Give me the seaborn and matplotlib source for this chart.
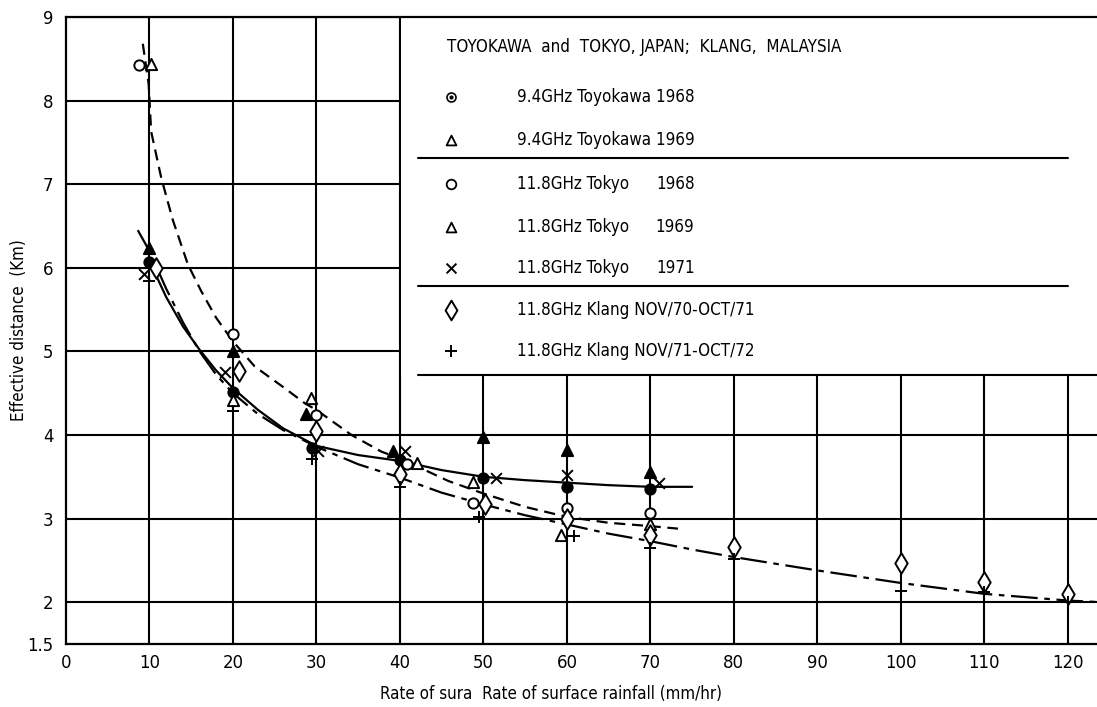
import matplotlib
matplotlib.use("Agg")
import matplotlib.pyplot as plt
from matplotlib import font_manager
from matplotlib.patches import Rectangle
import pandas as pd
import seaborn as sns

# measured points: rainfall rate (mm/hr) -> effective distance (km)
toyo68_x = [10, 20, 29.5, 40, 50, 60, 70]
toyo68_y = [6.07, 4.52, 3.85, 3.70, 3.48, 3.38, 3.35]
toyo69_x = [10, 20, 28.7, 39.2, 50, 60, 70]
toyo69_y = [6.24, 5.01, 4.25, 3.81, 3.98, 3.82, 3.56]
tokyo68_x = [8.7, 20, 30, 40.8, 48.7, 60, 70]
tokyo68_y = [8.43, 5.21, 4.24, 3.65, 3.19, 3.13, 3.07]
tokyo69_x = [10.2, 20, 29.4, 42.1, 48.7, 59.3, 70]
tokyo69_y = [8.44, 4.42, 4.44, 3.66, 3.44, 2.80, 2.93]
tokyo71_x = [9.4, 19.1, 30.2, 40.6, 51.5, 60, 71]
tokyo71_y = [5.93, 4.75, 3.81, 3.81, 3.49, 3.52, 3.42]
klang7071_x = [10.8, 20.7, 30, 40, 50.2, 60, 70, 80, 100, 110, 120]
klang7071_y = [6.0, 4.76, 4.05, 3.53, 3.18, 3.0, 2.80, 2.66, 2.47, 2.24, 2.10]
klang7172_x = [10, 20, 29.5, 40, 49.5, 60.9, 70, 80, 100, 110, 120]
klang7172_y = [5.84, 4.29, 3.71, 3.38, 3.02, 2.79, 2.65, 2.52, 2.13, 2.12, 2.0]

# hand drawn fit curves
tokyo_fit_x = [9.2, 9.9, 10.2, 11.4, 12.8, 14.6, 16.2, 18, 20, 22.6, 26.2, 28.6,
               30, 34.2, 37.8, 40, 45.8, 50, 55, 60, 65, 70, 73.3]
tokyo_fit_y = [8.68, 8.2, 7.63, 7.08, 6.57, 6.04, 5.72, 5.4, 5.12, 4.82, 4.56, 4.38,
               4.3, 4.0, 3.8, 3.72, 3.45, 3.30, 3.14, 3.02, 2.95, 2.91, 2.88]
toyo_fit_x = [10.6, 12, 14, 16, 18, 20, 23, 26, 30, 35, 40, 45, 50, 55, 60, 65, 70, 75]
toyo_fit_y = [5.95, 5.65, 5.3, 5.02, 4.77, 4.56, 4.3, 4.08, 3.87, 3.76, 3.69, 3.58,
              3.50, 3.46, 3.43, 3.40, 3.38, 3.38]
klang_fit_x = [8.6, 10, 12, 14, 16, 18, 20, 23, 26, 30, 35, 40, 45, 50, 55, 60, 65,
               70, 75, 80, 90, 100, 110, 120, 124]
klang_fit_y = [6.45, 6.2, 5.75, 5.35, 5.0, 4.72, 4.5, 4.25, 4.06, 3.86, 3.65, 3.49,
               3.31, 3.17, 3.04, 2.93, 2.82, 2.73, 2.63, 2.54, 2.38, 2.23, 2.1, 2.02, 2.0]

x_ticks = list(range(0, 130, 10))
y_ticks = [1.5, 2, 3, 4, 5, 6, 7, 8, 9]
y_tick_labels = ["1.5", "2", "3", "4", "5", "6", "7", "8", "9"]

legend_title = "TOYOKAWA  and  TOKYO, JAPAN;  KLANG,  MALAYSIA"

sns.set_theme(style="white")

# the scan uses a narrow typeface; take a condensed one if there is any
fonts = font_manager.fontManager.ttflist
names = {f.name for f in fonts}
stretch = "normal"
fs = 11.3
if "Liberation Sans Narrow" in names:
    family = ["Liberation Sans Narrow", "DejaVu Sans"]
    fs = 13
elif any(f.name == "DejaVu Sans" and "ondensed" in f.fname and "Bold" not in f.fname
         and "Oblique" not in f.fname for f in fonts):
    family = ["DejaVu Sans"]
    stretch = "condensed"
    fs = 12.2
else:
    family = ["Liberation Sans", "DejaVu Sans"]
plt.rcParams["font.family"] = family
plt.rcParams["font.stretch"] = stretch
plt.rcParams["text.color"] = "black"
plt.rcParams["axes.labelcolor"] = "black"
plt.rcParams["xtick.color"] = "black"
plt.rcParams["ytick.color"] = "black"

fig = plt.figure(figsize=(10.97, 7.07), dpi=100)
ax = fig.add_axes([66 / 1097, 1 - 644 / 707, 1031 / 1097, 627 / 707])
ax.set_xlim(0, 123.5)
ax.set_ylim(1.5, 9)

# grid
for gx in x_ticks[1:]:
    ax.axvline(gx, color="black", lw=1.5, zorder=0.5)
for gy in y_ticks[1:]:
    ax.axhline(gy, color="black", lw=1.5, zorder=0.5)

# curves
curves = [
    (tokyo_fit_x, tokyo_fit_y, (0, (5, 3))),
    (toyo_fit_x, toyo_fit_y, "-"),
    (klang_fit_x, klang_fit_y, (0, (12, 3, 2.5, 3))),
]
for cx, cy, ls in curves:
    d = pd.DataFrame({"x": cx, "y": cy})
    sns.lineplot(data=d, x="x", y="y", ax=ax, color="black", lw=1.6,
                 linestyle=ls, estimator=None, sort=False, zorder=2)

# points
series = [
    (toyo68_x, toyo68_y, "o", "black", 55),
    (toyo69_x, toyo69_y, "^", "black", 65),
    (tokyo68_x, tokyo68_y, "o", "white", 55),
    (tokyo69_x, tokyo69_y, "^", "white", 65),
    (klang7071_x, klang7071_y, "d", "white", 110),
]
for sx, sy, mk, fc, size in series:
    sns.scatterplot(x=sx, y=sy, ax=ax, marker=mk, s=size, color=fc,
                    edgecolor="black", linewidth=1.4, zorder=3)
sns.scatterplot(x=tokyo71_x, y=tokyo71_y, ax=ax, marker="x", s=60,
                color="black", linewidth=1.4, zorder=3)
sns.scatterplot(x=klang7172_x, y=klang7172_y, ax=ax, marker="+", s=80,
                color="black", linewidth=1.4, zorder=3)

# legend panel drawn inside the frame
ax.add_patch(Rectangle((40.15, 4.72), 90, 5, facecolor="white", edgecolor="none", zorder=1))
ax.plot([42.2, 123.5], [4.72, 4.72], color="black", lw=1.5, zorder=2)
ax.plot([42.2, 120], [7.31, 7.31], color="black", lw=1.5, zorder=2)
ax.plot([42.2, 120], [5.78, 5.78], color="black", lw=1.5, zorder=2)

ax.text(45.6, 8.64, legend_title, fontsize=fs, va="center", ha="left")
rows = [8.04, 7.53, 7.0, 6.49, 6.0, 5.5, 5.0]
mx = 46.1
ax.scatter([mx], [rows[0]], marker="o", s=42, facecolor="white", edgecolor="black", lw=1.2, zorder=3)
ax.scatter([mx], [rows[0]], marker="o", s=4, color="black", zorder=4)
ax.scatter([mx], [rows[1]], marker="^", s=50, facecolor="white", edgecolor="black", lw=1.3, zorder=3)
ax.scatter([mx], [rows[2]], marker="o", s=48, facecolor="white", edgecolor="black", lw=1.3, zorder=3)
ax.scatter([mx], [rows[3]], marker="^", s=50, facecolor="white", edgecolor="black", lw=1.3, zorder=3)
ax.scatter([mx], [rows[4]], marker="x", s=50, color="black", lw=1.4, zorder=3)
ax.scatter([mx], [rows[5]], marker="d", s=100, facecolor="white", edgecolor="black", lw=1.4, zorder=3)
ax.scatter([mx], [rows[6]], marker="+", s=70, color="black", lw=1.4, zorder=3)

x_left, x_right = 54.0, 75.3
ax.text(x_right, rows[0], "9.4GHz Toyokawa 1968", fontsize=fs, va="center", ha="right")
ax.text(x_right, rows[1], "9.4GHz Toyokawa 1969", fontsize=fs, va="center", ha="right")
for r, yr in zip(rows[2:5], ["1968", "1969", "1971"]):
    ax.text(x_left, r, "11.8GHz Tokyo", fontsize=fs, va="center", ha="left")
    ax.text(x_right, r, yr, fontsize=fs, va="center", ha="right")
ax.text(x_left, rows[5], "11.8GHz Klang NOV/70-OCT/71", fontsize=fs, va="center", ha="left")
ax.text(x_left, rows[6], "11.8GHz Klang NOV/71-OCT/72", fontsize=fs, va="center", ha="left")

# axes
for side in ["left", "bottom", "top"]:
    ax.spines[side].set_color("black")
    ax.spines[side].set_linewidth(1.6)
ax.spines["right"].set_visible(False)
ax.set_xticks(x_ticks)
ax.set_yticks(y_ticks)
ax.set_yticklabels(y_tick_labels)
ax.tick_params(length=0, labelsize=fs + 1, colors="black", labelcolor="black")
ax.tick_params(axis="x", pad=7)
ax.tick_params(axis="y", pad=9)
ax.set_xlabel("Rate of sura  Rate of surface rainfall (mm/hr)", fontsize=fs, color="black")
ax.xaxis.set_label_coords(0.47, -0.066)
ax.set_ylabel("Effective distance  (Km)", fontsize=fs, color="black")
ax.yaxis.set_label_coords(-0.037, 0.5)

fig.savefig("out.png", dpi=100, facecolor="white")
